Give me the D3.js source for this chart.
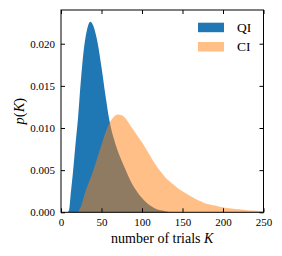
<!DOCTYPE html>
<html>
<head>
<meta charset="utf-8">
<script src="https://cdn.jsdelivr.net/npm/d3@7"></script>
<style>
  html, body { margin: 0; padding: 0; background: #fff; }
  svg { display: block; }
  text { font-family: "Liberation Serif", "DejaVu Serif", serif; fill: #000; }
</style>
</head>
<body>
<svg id="chart" width="282" height="256"></svg>
<script>
// histogram heights, p(K) against K
var qiK = [0, 8, 10, 12, 15, 18, 21, 24, 28, 32, 36, 40, 45, 50, 55, 60, 65, 70, 75, 80, 85, 90, 95, 100, 105, 110, 115, 120, 125, 130, 135, 250];
var qiP = [0, 0, 0.0003, 0.0022, 0.0050, 0.0082, 0.0112, 0.0150, 0.0192, 0.0216, 0.0226, 0.0221, 0.0202, 0.0172, 0.0138, 0.0108, 0.0088, 0.0073, 0.0061, 0.0050, 0.0039, 0.0030, 0.0023, 0.0017, 0.0012, 0.0008, 0.0005, 0.0003, 0.0002, 0.0001, 0, 0];

var ciK = [0, 20, 25, 30, 35, 40, 45, 50, 55, 60, 65, 70, 75, 80, 85, 90, 95, 100, 105, 110, 115, 120, 125, 130, 135, 140, 145, 150, 155, 160, 165, 170, 175, 180, 185, 190, 195, 200, 205, 210, 215, 220, 225, 230, 235, 240, 245, 250];
var ciP = [0, 0, 0.0008, 0.0024, 0.0037, 0.0050, 0.0065, 0.0080, 0.0095, 0.0106, 0.0113, 0.0116, 0.0115, 0.0111, 0.0104, 0.0097, 0.0090, 0.0083, 0.0075, 0.0067, 0.0059, 0.0052, 0.0046, 0.0040, 0.0036, 0.0032, 0.0028, 0.0025, 0.0022, 0.0019, 0.00165, 0.0014, 0.0012, 0.0010, 0.0009, 0.0008, 0.0007, 0.0006, 0.0005, 0.00045, 0.0004, 0.00035, 0.0003, 0.00025, 0.0002, 0.00018, 0.00015, 0.0001];

var xTicks = [0, 50, 100, 150, 200, 250];
var yTicks = [0, 0.005, 0.010, 0.015, 0.020];
var seriesNames = ['QI', 'CI'];

var svg = d3.select('#chart');
var plotLeft = 61, plotRight = 263.5, plotTop = 10, plotBottom = 212.3;

var x = d3.scaleLinear().domain([0, 250]).range([plotLeft, plotRight]);
var y = d3.scaleLinear().domain([0, 0.024]).range([plotBottom, plotTop]);

var area = function(ks) {
    return d3.area()
        .x(function(d, i) { return x(ks[i]); })
        .y0(y(0))
        .y1(function(d) { return y(d); })
        .curve(d3.curveMonotoneX);
};

svg.append('path')
    .datum(qiP)
    .attr('d', area(qiK))
    .attr('fill', '#1f77b4');

svg.append('path')
    .datum(ciP)
    .attr('d', area(ciK))
    .attr('fill', '#ff7f0e')
    .attr('fill-opacity', 0.5);

// axes, ticks pointing inward on all four sides
var styleAxis = function(g) {
    g.select('.domain').remove();
    g.selectAll('.tick line').attr('stroke', '#000').attr('stroke-width', 1);
    g.selectAll('.tick text').attr('font-size', '11px').attr('font-family', '"Liberation Serif", serif');
};

svg.append('g')
    .attr('transform', 'translate(0,' + plotBottom + ')')
    .call(d3.axisBottom(x).tickValues(xTicks).tickSizeInner(-4).tickSizeOuter(0).tickPadding(6).tickFormat(d3.format('d')))
    .call(styleAxis);

svg.append('g')
    .attr('transform', 'translate(0,' + plotTop + ')')
    .call(d3.axisTop(x).tickValues(xTicks).tickSizeInner(-4).tickSizeOuter(0).tickFormat(''))
    .call(styleAxis);

svg.append('g')
    .attr('transform', 'translate(' + plotLeft + ',0)')
    .call(d3.axisLeft(y).tickValues(yTicks).tickSizeInner(-4).tickSizeOuter(0).tickPadding(6).tickFormat(d3.format('.3f')))
    .call(styleAxis);

svg.append('g')
    .attr('transform', 'translate(' + plotRight + ',0)')
    .call(d3.axisRight(y).tickValues(yTicks).tickSizeInner(-4).tickSizeOuter(0).tickFormat(''))
    .call(styleAxis);

svg.append('rect')
    .attr('x', plotLeft).attr('y', plotTop)
    .attr('width', plotRight - plotLeft).attr('height', plotBottom - plotTop)
    .attr('fill', 'none').attr('stroke', '#000').attr('stroke-width', 1);

// axis labels
var xl = svg.append('text')
    .attr('x', (plotLeft + plotRight) / 2).attr('y', 243)
    .attr('text-anchor', 'middle').attr('font-size', '14px');
xl.append('tspan').text('number of trials ');
xl.append('tspan').attr('font-style', 'italic').text('K');

var yl = svg.append('text')
    .attr('transform', 'translate(24,' + ((plotTop + plotBottom) / 2) + ') rotate(-90)')
    .attr('text-anchor', 'middle').attr('font-size', '14.5px');
yl.append('tspan').attr('font-style', 'italic').text('p');
yl.append('tspan').text('(');
yl.append('tspan').attr('font-style', 'italic').text('K');
yl.append('tspan').text(')');

// legend
var legend = svg.append('g').selectAll('g')
    .data(seriesNames)
    .enter().append('g')
    .attr('transform', function(d, i) { return 'translate(198,' + (22.7 + i * 19.3) + ')'; });

legend.append('rect')
    .attr('width', 26).attr('height', 9.5)
    .attr('fill', function(d, i) { return i === 0 ? '#1f77b4' : '#ff7f0e'; })
    .attr('fill-opacity', function(d, i) { return i === 0 ? 1 : 0.5; });

legend.append('text')
    .attr('x', 39).attr('y', 9.2)
    .attr('font-size', '13.5px')
    .text(function(d) { return d; });
</script>
</body>
</html>
